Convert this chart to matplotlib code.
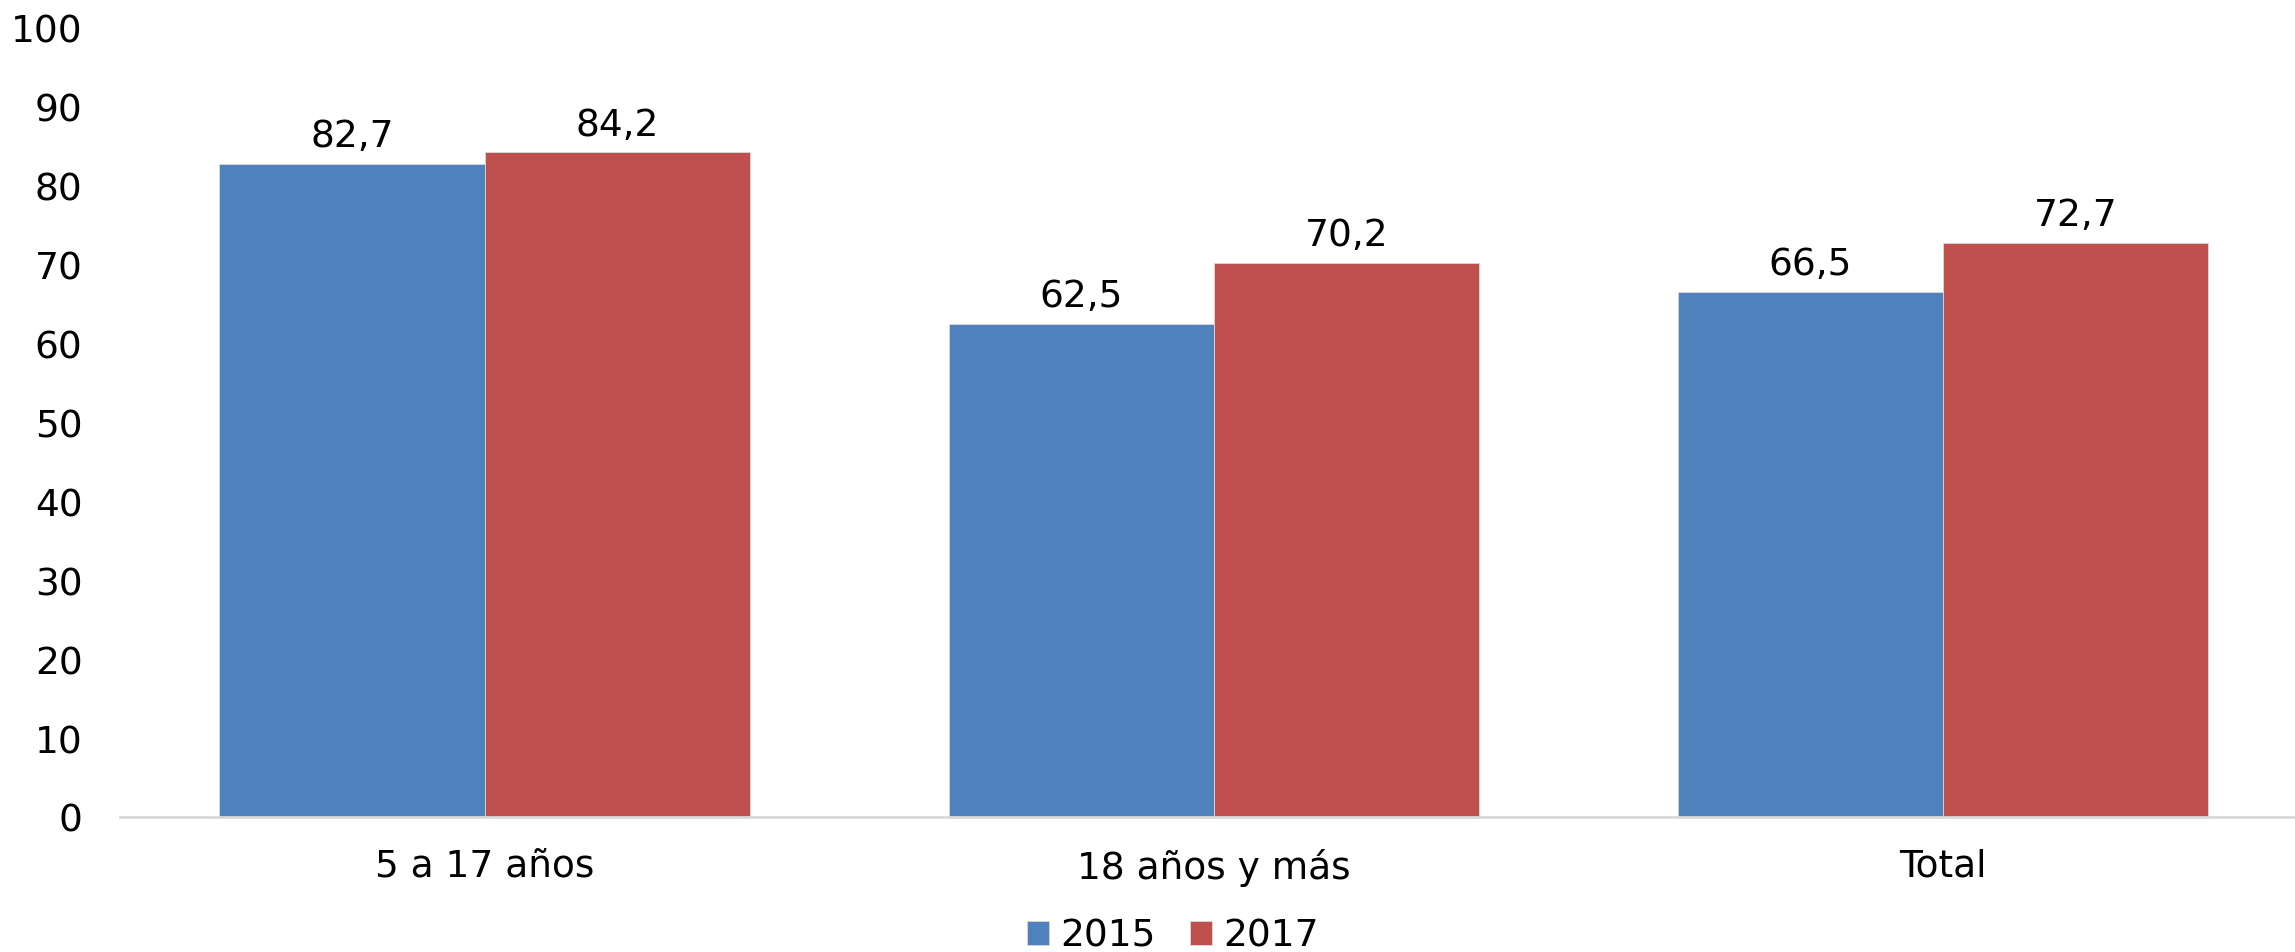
import numpy as np
import matplotlib.pyplot as plt

categories = ['5 a 17 años', '18 años y más', 'Total']
series_names = ['2015', '2017']
values_2015 = [82.7, 62.5, 66.5]
values_2017 = [84.2, 70.2, 72.7]
colors = ['#4F81BD', '#C0504D']

plt.rcParams['font.family'] = ['DejaVu Sans']

fig = plt.figure(figsize=(22.95, 9.53), dpi=100)
ax = fig.add_axes([120 / 2295, 0.1417, 1 - 120 / 2295, 0.970 - 0.1417])

x = np.arange(len(categories))
width = 0.3636
fs = 27

bars1 = ax.bar(x - width / 2, values_2015, width, color=colors[0], label=series_names[0],
               edgecolor='#d9d9d9', linewidth=0.6)
bars2 = ax.bar(x + width / 2, values_2017, width, color=colors[1], label=series_names[1],
               edgecolor='#d9d9d9', linewidth=0.6)

for bars in (bars1, bars2):
    for b in bars:
        h = b.get_height()
        ax.annotate(f'{h:.1f}'.replace('.', ','), (b.get_x() + b.get_width() / 2, h),
                    xytext=(0, 7), textcoords='offset points', ha='center', va='bottom',
                    fontsize=fs)

ax.set_xlim(-0.5, 2.483)
ax.set_ylim(0, 100)
ax.set_yticks(range(0, 101, 10))
ax.set_xticks(x)
ax.set_xticklabels(categories)
ax.tick_params(axis='both', length=0, labelsize=fs)
ax.tick_params(axis='x', pad=22)
ax.tick_params(axis='y', pad=27)

for s in ['top', 'right', 'left']:
    ax.spines[s].set_visible(False)
ax.spines['bottom'].set_color('#d9d9d9')
ax.spines['bottom'].set_linewidth(2)

fig.legend(loc='center', bbox_to_anchor=(1173 / 2295, 1 - 937 / 953), ncol=2, frameon=False,
           fontsize=fs, handlelength=0.6, handleheight=0.6, handletextpad=0.3,
           columnspacing=0.9)

fig.savefig('out.png', dpi=100)
